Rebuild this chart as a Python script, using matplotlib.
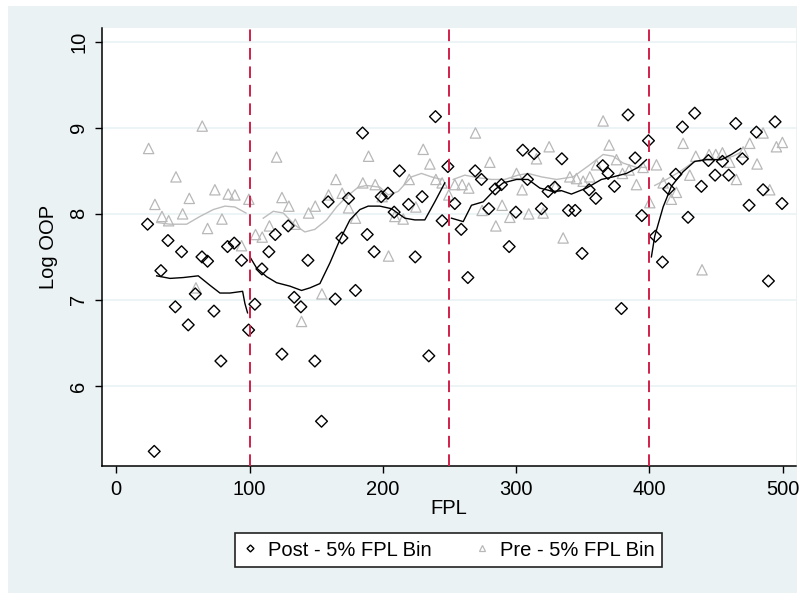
import matplotlib
matplotlib.use("Agg")
import matplotlib.pyplot as plt
from matplotlib.lines import Line2D
from matplotlib.patches import Rectangle

plt.rcParams['font.family'] = ['Liberation Sans', 'DejaVu Sans']

# binned means, post period (5% FPL bins)
post_fpl = [23.5, 28.5, 33.5, 38.8, 44.3, 49, 54, 59.3, 64.3, 68.5, 73.3, 78.5, 83.5, 88.5, 94, 99.3, 104,
            109.3, 114.5, 119.3, 124.3, 129, 133.5, 138.5, 143.8, 149, 154, 159, 164.3, 169.3, 174.3, 179.5,
            184.8, 188.3, 193.5, 198.8, 203.8, 208.5, 212.5,
            219.3, 224.3, 229.5, 234.5, 239.5, 244.5, 248.8, 254, 258.8, 263.8, 269.3, 274, 279.5, 284.3, 289,
            294.8, 299.8, 305, 308.5, 313.5, 319, 324,
            329, 334.3, 339.3, 344.3, 349.5, 354.8, 359.8, 365, 369, 373.8, 379, 384, 389.3, 394.3, 399.3,
            404.5, 409.8, 414.5, 419.8, 424.8, 429, 434, 439, 444.3, 449.3, 454.8, 459.5, 464.8, 469.8, 474.8,
            480.3, 485.3, 489.3, 494.3, 499.5]
post_oop = [7.88, 5.24, 7.34, 7.69, 6.92, 7.56, 6.71, 7.07, 7.50, 7.45, 6.87, 6.29, 7.62, 7.66, 7.46, 6.65, 6.95,
            7.36, 7.56, 7.76, 6.37, 7.86, 7.03, 6.92, 7.46, 6.29, 5.59, 8.14, 7.01, 7.72, 8.18, 7.11,
            8.94, 7.76, 7.56, 8.20, 8.24, 8.02, 8.50,
            8.11, 7.50, 8.20, 6.35, 9.13, 7.92, 8.55, 8.12, 7.82, 7.26, 8.50, 8.40, 8.06, 8.29, 8.34,
            7.62, 8.02, 8.74, 8.40, 8.70, 8.06, 8.26,
            8.31, 8.64, 8.04, 8.04, 7.54, 8.28, 8.18, 8.56, 8.47, 8.32, 6.90, 9.15, 8.65, 7.98, 8.85,
            7.74, 7.44, 8.29, 8.46, 9.01, 7.96, 9.17, 8.32, 8.62, 8.45, 8.61, 8.45, 9.05, 8.64, 8.10,
            8.95, 8.28, 7.22, 9.07, 8.12]

# binned means, pre period
pre_fpl = [24.3, 29, 34.3, 39.3, 44.8, 49.8, 54.8, 59.8, 64.5, 68.5, 74, 79.3, 84, 89, 94, 99.5, 104.5,
           109.5, 114.9, 120.3, 124.3, 129.5, 134.3, 139, 144.3, 149.3, 154.3, 159.3, 164.8, 169.5, 174.3,
           179.5, 185, 189.3, 194.3, 199.5, 204.3, 209,
           215.3, 219.8, 224.8, 230.3, 235.3, 239.8, 244.5, 249.5, 254, 259.5, 264.5, 269.5, 274.5, 280.3,
           284.8, 289.5, 295.3, 300.3, 304.5, 309.5, 315.3, 320.3, 324.8,
           329.5, 335.3, 340.3, 345.3, 350.3, 355.3, 360.3, 365.3, 369.8, 375.3, 379.8, 384.8, 390.3, 395.3,
           400.3, 405.3, 410.3, 416.5, 420.3, 425.3, 430.3, 434.8, 439.5, 444.8, 449.8, 454.8, 460.3, 465.3,
           470.3, 475.3, 480.8, 485.3, 490.3, 495.3, 499.8]
pre_oop = [8.76, 8.11, 7.97, 7.92, 8.43, 8.00, 8.18, 7.14, 9.02, 7.83, 8.28, 7.94, 8.23, 8.22, 7.63, 8.17, 7.76,
           7.73, 7.86, 8.66, 8.19, 8.09, 7.88, 6.75, 8.01, 8.09, 7.07, 8.22, 8.40, 8.24, 8.07,
           7.95, 8.36, 8.67, 8.34, 8.20, 7.51, 7.97,
           7.94, 8.40, 8.08, 8.75, 8.58, 8.40, 8.36, 8.22, 8.34, 8.34, 8.30, 8.94, 8.04, 8.60,
           7.86, 8.10, 7.96, 8.47, 8.28, 8.00, 8.64, 8.01, 8.78,
           8.32, 7.72, 8.43, 8.41, 8.38, 8.43, 8.57, 9.08, 8.80, 8.63, 8.47, 8.51, 8.34, 8.54,
           8.13, 8.57, 8.36, 8.17, 8.25, 8.82, 8.45, 8.67, 7.35, 8.69, 8.69, 8.71, 8.60, 8.40,
           8.72, 8.82, 8.58, 8.94, 8.28, 8.78, 8.83]

# local smooths, fitted separately between cutoffs
post_fit = [
    ([30.3, 40.3, 50.3, 61.5, 70.3, 77.8, 85.3, 94.8, 96.5, 98.5],
     [7.28, 7.25, 7.26, 7.28, 7.17, 7.08, 7.08, 7.10, 6.96, 6.85]),
    ([100.3, 105.3, 112.8, 120.3, 130.3, 139, 145.3, 152.8, 160.3, 167.8, 175.3, 182.8, 189, 197.8,
      206.5, 216.5, 224, 231.5, 239, 246.5],
     [7.50, 7.37, 7.27, 7.20, 7.16, 7.11, 7.14, 7.19, 7.43, 7.70, 7.93, 8.05, 8.09, 8.09,
      8.06, 7.95, 7.93, 7.93, 8.14, 8.36]),
    ([251.5, 260.3, 266.5, 275.3, 284, 290.3, 300.3, 309, 317.8, 327.8, 334, 341.5, 352.8, 364, 372.8,
      382.8, 391.5, 397.8],
     [7.95, 7.91, 8.10, 8.14, 8.28, 8.36, 8.40, 8.40, 8.30, 8.26, 8.27, 8.23, 8.30, 8.40, 8.43,
      8.47, 8.54, 8.63]),
    ([401.5, 404, 410.3, 416.5, 425.3, 434, 442.8, 454, 461.5, 468.5],
     [7.50, 7.74, 8.08, 8.32, 8.49, 8.61, 8.63, 8.63, 8.69, 8.76]),
]
pre_fit = [
    ([30.3, 40.3, 52.8, 62.8, 72.8, 81.5, 89, 97.3],
     [7.90, 7.88, 7.88, 7.97, 8.05, 8.09, 8.08, 8.01]),
    ([110.3, 117.8, 125.3, 134, 141.5, 149, 157.8, 165.3, 172.8, 181.5, 187.8, 197.8, 204, 211.5,
      221.5, 229, 236.5, 244],
     [7.95, 8.03, 8.01, 7.87, 7.79, 7.82, 7.93, 8.08, 8.20, 8.31, 8.33, 8.31, 8.22, 8.26,
      8.43, 8.47, 8.43, 8.40]),
    ([252.8, 261.5, 271.5, 281.5, 291.5, 301.5, 309, 319, 330.3, 342.8, 355.3, 365.3, 372.8, 380.3,
      390.3, 397.8],
     [8.40, 8.45, 8.42, 8.40, 8.40, 8.45, 8.47, 8.43, 8.40, 8.43, 8.57, 8.69, 8.67, 8.59,
      8.54, 8.54]),
    ([404, 412.8, 422.8, 432.8, 442.8, 452.8, 462.8, 467.8],
     [8.33, 8.40, 8.49, 8.60, 8.64, 8.63, 8.67, 8.71]),
]

cutoffs = [100, 250, 400]

bg = '#EAF2F3'
fig = plt.figure(figsize=(8.04, 5.93), dpi=100, facecolor='white')
# light graph region behind the plot
fig.patches.append(Rectangle((8 / 804, 0), 789 / 804, 1 - 6 / 593, transform=fig.transFigure,
                             facecolor=bg, edgecolor='none', zorder=-5))
ax = fig.add_axes([102 / 804, 1 - 466 / 593, 694 / 804, 438 / 593])
ax.set_facecolor('white')

for xs, ys in pre_fit:
    ax.plot(xs, ys, color='#BDBDBD', lw=1.0, zorder=2)
ax.scatter(pre_fpl, pre_oop, marker='^', s=55, facecolors='none', edgecolors='#B8B8B8',
           linewidths=0.9, zorder=3)
ax.scatter(post_fpl, post_oop, marker='D', s=36, facecolors='none', edgecolors='black',
           linewidths=1.0, zorder=4)
for xs, ys in post_fit:
    ax.plot(xs, ys, color='black', lw=1.0, zorder=5)

for c in cutoffs:
    ax.axvline(c, color='#D0204A', lw=1.4, dashes=(6, 3.5), zorder=6)

ax.set_xlim(-10.7, 510)
ax.set_ylim(5.07, 10.16)
ax.set_xticks([0, 100, 200, 300, 400, 500])
ax.set_yticks([6, 7, 8, 9, 10])
ax.grid(axis='y', color=bg, lw=1.2)
ax.set_axisbelow(True)
for s in ['top', 'right']:
    ax.spines[s].set_visible(False)
for s in ['left', 'bottom']:
    ax.spines[s].set_linewidth(1.1)
ax.tick_params(direction='out', length=5, width=1.0, labelsize=14.5, colors='black', pad=5)
for lab in ax.get_yticklabels():
    lab.set_rotation(90)
    lab.set_va('center')
ax.set_xlabel('FPL', fontsize=14.5, labelpad=0)
ax.set_ylabel('Log OOP', fontsize=14.5, labelpad=8)

handles = [
    Line2D([], [], ls='none', marker='D', ms=3.5, mfc='none', mec='black', mew=1.0),
    Line2D([], [], ls='none', marker='^', ms=5, mfc='none', mec='#B8B8B8', mew=0.9),
]
leg = fig.legend(handles, ['Post - 5% FPL Bin', 'Pre - 5% FPL Bin'], loc='center',
                 bbox_to_anchor=(448.5 / 804, 1 - 550 / 593), ncol=2, fontsize=14.5,
                 frameon=True, fancybox=False, edgecolor='#222222', framealpha=1,
                 handlelength=0.8, handletextpad=0.5, columnspacing=2.1, borderpad=0.35)
leg.get_frame().set_linewidth(1.2)

fig.savefig('out.png', dpi=100, facecolor='white')
